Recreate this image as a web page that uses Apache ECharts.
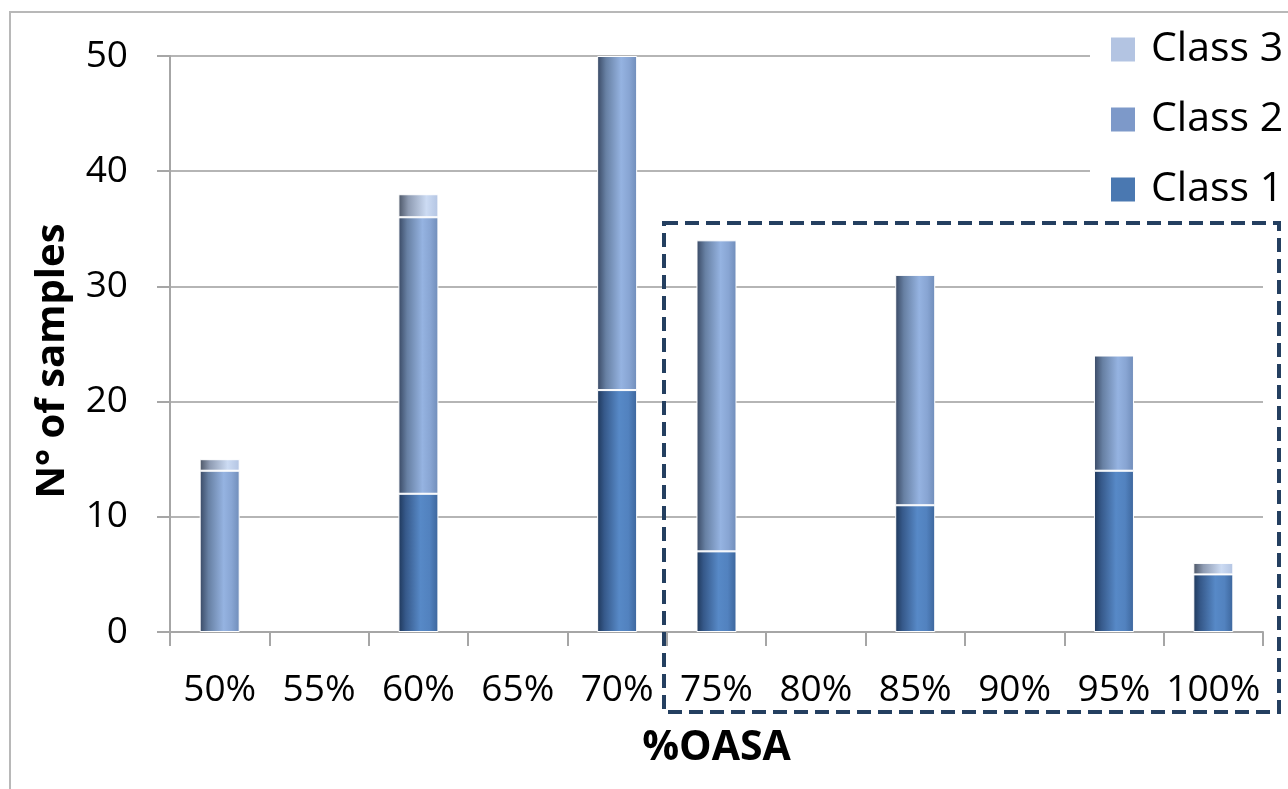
<!DOCTYPE html>
<html>
<head>
<meta charset="utf-8">
<title>%OASA — N° of samples</title>
<script src="https://cdn.jsdelivr.net/npm/echarts@6/dist/echarts.min.js"></script>
<style>
  html, body { margin: 0; padding: 0; background: #ffffff; overflow: hidden; }
  #chart { width: 1288px; height: 789px; }
</style>
</head>
<body>
<div id="chart"></div>
<script>
// Categories along the x axis
const categories = ['50%', '55%', '60%', '65%', '70%', '75%', '80%', '85%', '90%', '95%', '100%'];

// Stacked counts per class (null = no bar segment)
const class1 = [null, null, 12, null, 21, 7, null, 11, null, 14, 5];
const class2 = [14, null, 24, null, 29, 27, null, 20, null, 10, null];
const class3 = [1, null, 2, null, null, null, null, null, null, null, 1];

// Y axis range
const yMin = 0;
const yMax = 50;
const yStep = 10;

const FONT = "'Open Sans', 'Noto Sans', sans-serif";

// Cylinder-like horizontal shading for each class
function shade(stops) {
  return new echarts.graphic.LinearGradient(0, 0, 1, 0,
    stops.map(([offset, color]) => ({ offset, color })));
}
const fill1 = shade([[0, '#1e375a'], [0.18, '#36598a'], [0.55, '#5789c7'], [0.78, '#5282bf'], [1, '#3c659b']]);
const fill2 = shade([[0, '#384863'], [0.22, '#6780a3'], [0.6, '#95b3e1'], [0.8, '#88a5d3'], [1, '#6f8cb9']]);
const fill3 = shade([[0, '#4a5465'], [0.25, '#8e9bb2'], [0.7, '#ccdbf3'], [1, '#b3c4e2']]);

const segStyle = (fill) => ({ color: fill, borderColor: '#ffffff', borderWidth: 1 });

const chart = echarts.init(document.getElementById('chart'), null, { renderer: 'canvas' });

chart.setOption({
  backgroundColor: '#ffffff',
  animation: false,
  grid: { left: 170, width: 1093, top: 56, height: 576, containLabel: false },
  legend: {
    orient: 'vertical',
    left: 1090,
    top: 11,
    padding: [18, 10, 12, 19],
    backgroundColor: '#ffffff',
    itemWidth: 26,
    itemHeight: 26,
    itemGap: 29,
    icon: 'rect',
    textStyle: { fontFamily: FONT, fontSize: 41, color: '#000000', padding: [0, 0, 0, 10] },
    data: [
      { name: 'Class 3', itemStyle: { color: '#b3c4e2' } },
      { name: 'Class 2', itemStyle: { color: '#7d99c9' } },
      { name: 'Class 1', itemStyle: { color: '#4a78b1' } }
    ]
  },
  xAxis: {
    type: 'category',
    data: categories,
    boundaryGap: true,
    name: '%OASA',
    nameLocation: 'middle',
    nameGap: 96,
    nameTextStyle: { fontFamily: FONT, fontSize: 41, fontWeight: 'bold', color: '#000000' },
    axisLine: { show: true, lineStyle: { color: '#a6a6a6', width: 2 } },
    axisTick: { show: true, interval: 0, length: 14, lineStyle: { color: '#a6a6a6', width: 2 } },
    axisLabel: { interval: 0, margin: 40, fontFamily: FONT, fontSize: 37, color: '#000000' },
    splitLine: { show: false }
  },
  yAxis: {
    type: 'value',
    min: yMin,
    max: yMax,
    interval: yStep,
    name: 'N° of samples',
    nameLocation: 'middle',
    nameGap: 97,
    nameRotate: 90,
    nameTextStyle: { fontFamily: FONT, fontSize: 40, fontWeight: 'bold', color: '#000000', padding: [0, 34, 0, 0] },
    axisLine: { show: true, lineStyle: { color: '#a6a6a6', width: 2 } },
    axisTick: { show: true, inside: false, length: 13, lineStyle: { color: '#a6a6a6', width: 2 } },
    axisLabel: { margin: 42, fontFamily: FONT, fontSize: 37, color: '#000000' },
    splitLine: { show: true, lineStyle: { color: '#b5b5b5', width: 2 } }
  },
  series: [
    { name: 'Class 1', type: 'bar', stack: 'n', data: class1, barWidth: 40, itemStyle: segStyle(fill1) },
    { name: 'Class 2', type: 'bar', stack: 'n', data: class2, barWidth: 40, itemStyle: segStyle(fill2) },
    { name: 'Class 3', type: 'bar', stack: 'n', data: class3, barWidth: 40, itemStyle: segStyle(fill3) }
  ],
  graphic: [
    // outer chart frame
    {
      type: 'rect', z: 100, silent: true,
      shape: { x: 10, y: 12, width: 1300, height: 800 },
      style: { fill: 'none', stroke: '#b8b8b8', lineWidth: 2 }
    },
    // dashed highlight box around 75%–100%
    {
      type: 'rect', z: 100, silent: true,
      shape: { x: 664, y: 223, width: 615, height: 489 },
      style: { fill: 'none', stroke: '#243f60', lineWidth: 4, lineDash: [14, 7] }
    }
  ]
});
</script>
</body>
</html>
